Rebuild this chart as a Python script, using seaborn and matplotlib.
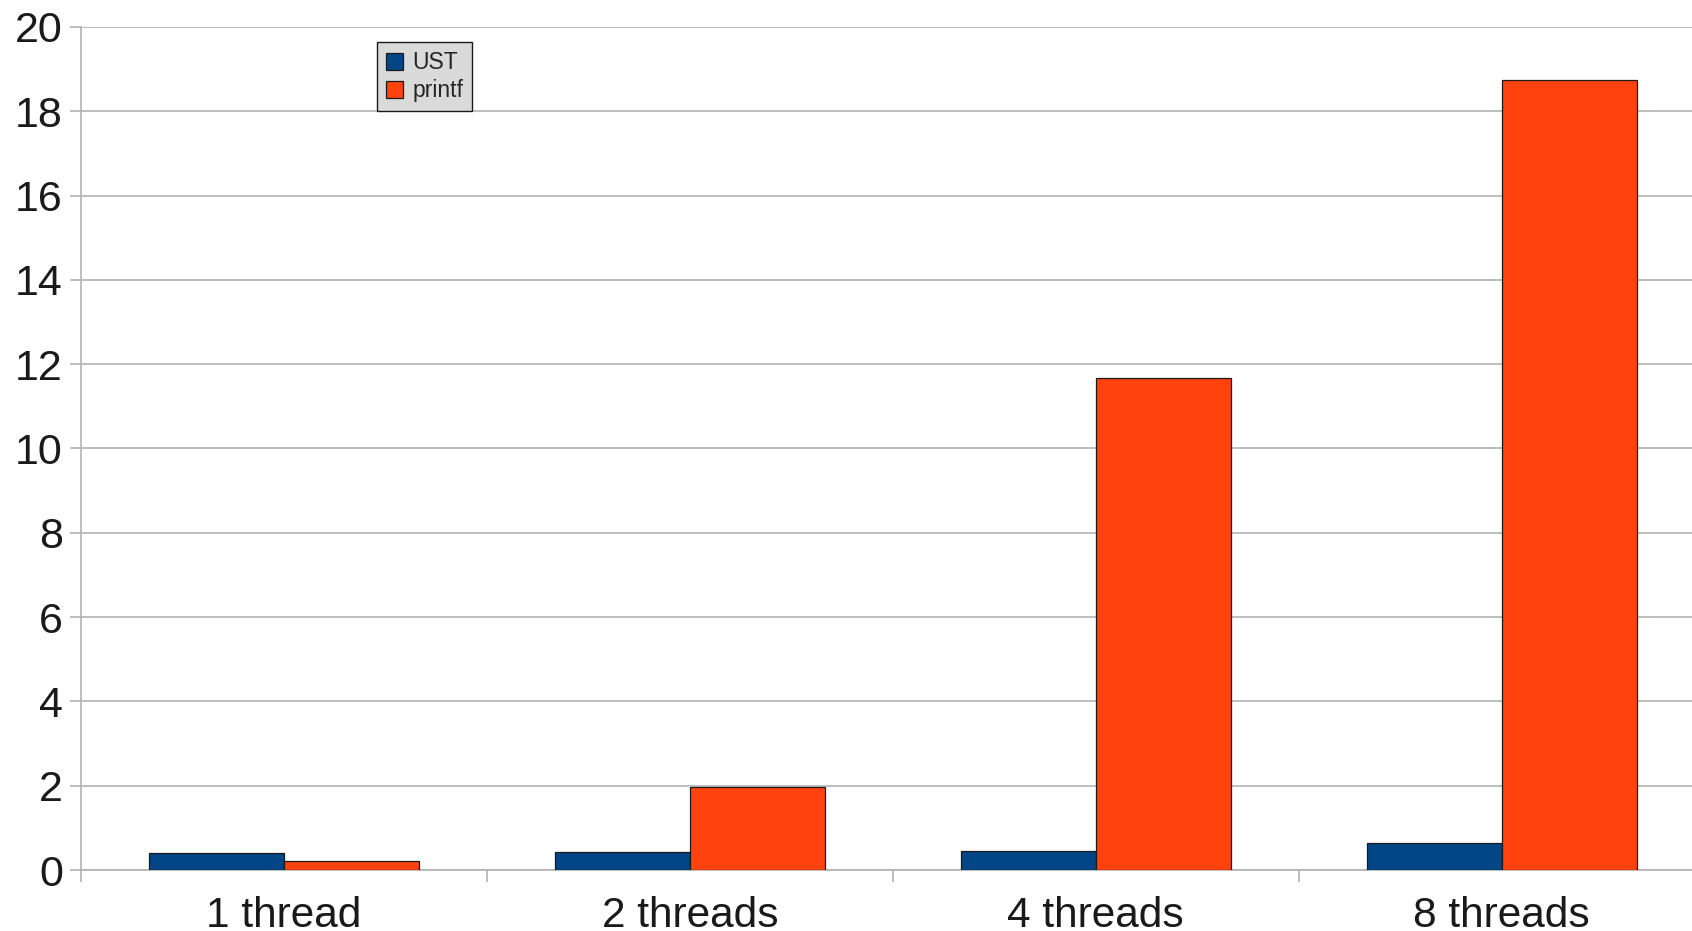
import matplotlib
matplotlib.use("Agg")
import matplotlib.pyplot as plt
from matplotlib.ticker import FixedLocator, MultipleLocator
import seaborn as sns
import pandas as pd

# Data
categories = ["1 thread", "2 threads", "4 threads", "8 threads"]
ust_values = [0.41, 0.42, 0.46, 0.63]
printf_values = [0.21, 1.98, 11.68, 18.74]
series_names = ["UST", "printf"]
colors = ["#004586", "#ff420e"]

df = pd.DataFrame({
    "threads": categories * 2,
    "time": ust_values + printf_values,
    "tool": [series_names[0]] * len(categories) + [series_names[1]] * len(categories),
})

sns.set_style("white")
plt.rcParams["font.family"] = ["Liberation Sans", "DejaVu Sans"]

W, H = 1692, 931
fig = plt.figure(figsize=(W / 100, H / 100), dpi=100)
ax_left, ax_bottom = 81 / W, 1 - 870 / H
ax_w, ax_h = 4 * 405.9 / W, (870 - 27) / H
ax = fig.add_axes([ax_left, ax_bottom, ax_w, ax_h])

sns.barplot(data=df, x="threads", y="time", hue="tool", order=categories,
            hue_order=series_names, palette=colors, saturation=1,
            width=0.665, gap=0, edgecolor="#1a1a1a", linewidth=0.9,
            ax=ax, zorder=3)

ax.set_xlim(-0.5, len(categories) - 0.5)
ax.set_ylim(0, 20)
ax.yaxis.set_major_locator(MultipleLocator(2))
ax.grid(axis="y", color="#b3b3b3", linewidth=1.2, zorder=0)
ax.grid(axis="x", visible=False)
ax.set_axisbelow(True)

ax.set_xlabel("")
ax.set_ylabel("")

for side in ("top", "right"):
    ax.spines[side].set_visible(False)
for side in ("left", "bottom"):
    ax.spines[side].set_color("#b3b3b3")
    ax.spines[side].set_linewidth(1.2)

# Category labels at centres, tick marks at boundaries
ax.tick_params(axis="x", which="major", length=0, labelsize=30.5, pad=19,
               labelcolor="#1a1a1a")
ax.xaxis.set_minor_locator(FixedLocator([i - 0.5 for i in range(len(categories) + 1)]))
ax.tick_params(axis="x", which="minor", length=8.5, width=1.2, color="#b3b3b3",
               direction="out", bottom=True)
ax.tick_params(axis="y", which="major", length=8, width=1.2, color="#b3b3b3",
               direction="out", left=True, labelsize=31, pad=5,
               labelcolor="#1a1a1a")

# Legend
ax.get_legend().remove()
handles = [plt.Rectangle((0, 0), 1, 1, facecolor=c, edgecolor="#1a1a1a", linewidth=0.9)
           for c in colors]
leg = fig.legend(handles, series_names, loc="upper left",
                 bbox_to_anchor=(376.6 / W, 1 - 42 / H), bbox_transform=fig.transFigure,
                 fontsize=16.5, frameon=True, fancybox=False, framealpha=1,
                 handlelength=0.75, handleheight=0.75, handletextpad=0.4,
                 labelspacing=0.22, borderpad=0.4, borderaxespad=0)
leg.get_frame().set_facecolor("#dadada")
leg.get_frame().set_edgecolor("#1a1a1a")
leg.get_frame().set_linewidth(1.0)

fig.savefig("out.png", dpi=100)
